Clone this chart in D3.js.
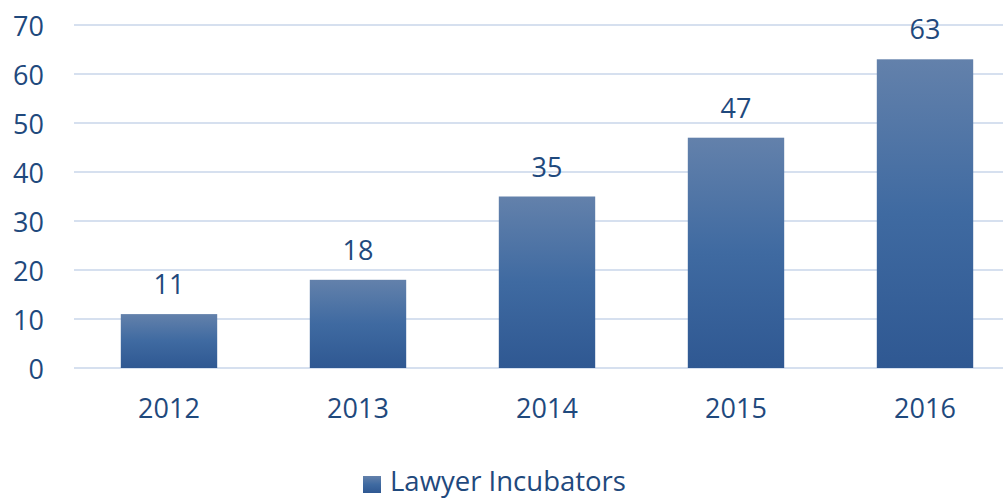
<!DOCTYPE html>
<html>
<head>
<meta charset="utf-8">
<script src="https://cdn.jsdelivr.net/npm/d3@7"></script>
<style>
  html, body { margin: 0; padding: 0; background: #ffffff; }
  svg { display: block; }
  text { font-family: "Open Sans", "DejaVu Sans", sans-serif; fill: #1f497d; }
</style>
</head>
<body>
<svg id="chart" width="1003" height="498"></svg>
<script>
const categories = ["2012", "2013", "2014", "2015", "2016"];
const values = [11, 18, 35, 47, 63];
const yTicks = [0, 10, 20, 30, 40, 50, 60, 70];
const seriesName = "Lawyer Incubators";

const svg = d3.select("#chart");
const W = 1003, H = 498;

const x = d3.scaleBand().domain(categories).range([74.5, 1019.5]).paddingInner(0.49).paddingOuter(0.245);
const y = d3.scaleLinear().domain([0, 70]).range([368, 25]);

const defs = svg.append("defs");
const grad = defs.append("linearGradient").attr("id", "barGrad")
  .attr("x1", 0).attr("y1", 0).attr("x2", 0).attr("y2", 1);
grad.append("stop").attr("offset", "0%").attr("stop-color", "#6381ab");
grad.append("stop").attr("offset", "50%").attr("stop-color", "#3f6aa1");
grad.append("stop").attr("offset", "100%").attr("stop-color", "#2f5892");

// gridlines
svg.append("g").selectAll("line").data(yTicks).join("line")
  .attr("x1", 74).attr("x2", W)
  .attr("y1", d => y(d)).attr("y2", d => y(d))
  .attr("stroke", "#d6e0ef").attr("stroke-width", 2);

// y tick labels
svg.append("g").selectAll("text").data(yTicks).join("text")
  .attr("x", 44).attr("y", d => y(d))
  .attr("text-anchor", "end").attr("dominant-baseline", "central")
  .attr("font-size", 27)
  .text(d => d);

// bars
svg.append("g").selectAll("rect").data(values).join("rect")
  .attr("x", (d, i) => x(categories[i]))
  .attr("width", x.bandwidth())
  .attr("y", d => y(d))
  .attr("height", d => y(0) - y(d))
  .attr("fill", "url(#barGrad)");

// value labels
svg.append("g").selectAll("text").data(values).join("text")
  .attr("x", (d, i) => x(categories[i]) + x.bandwidth() / 2)
  .attr("y", d => y(d) - 20)
  .attr("text-anchor", "middle")
  .attr("font-size", 27)
  .text(d => d);

// x labels
svg.append("g").selectAll("text").data(categories).join("text")
  .attr("x", d => x(d) + x.bandwidth() / 2)
  .attr("y", 418)
  .attr("text-anchor", "middle")
  .attr("font-size", 27)
  .text(d => d);

// legend
const lg = svg.append("g");
lg.append("rect").attr("x", 363).attr("y", 476).attr("width", 18).attr("height", 17).attr("fill", "url(#barGrad)");
lg.append("text").attr("x", 390).attr("y", 491).attr("font-size", 27.5).text(seriesName);
</script>
</body>
</html>
